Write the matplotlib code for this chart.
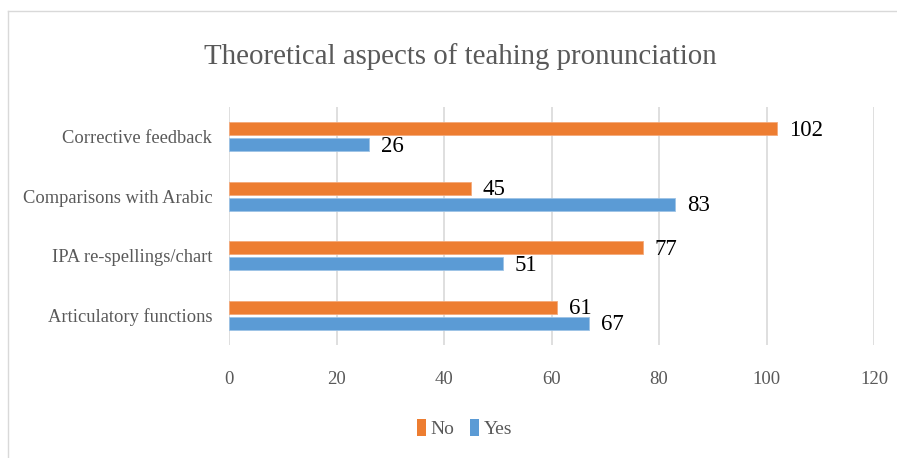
import numpy as np
import matplotlib
matplotlib.use("Agg")
import matplotlib.pyplot as plt
from matplotlib.patches import Patch
from matplotlib.lines import Line2D

# data (bottom to top, as drawn by Excel)
categories = ["Articulatory functions", "IPA re-spellings/chart",
              "Comparisons with Arabic", "Corrective feedback"]
no_values = [61, 77, 45, 102]
yes_values = [67, 51, 83, 26]
x_ticks = [0, 20, 40, 60, 80, 100, 120]
title = "Theoretical aspects of teahing pronunciation"

orange = "#ED7D31"
blue = "#5B9BD5"
grey_text = "#595959"

plt.rcParams["font.family"] = ["Liberation Serif", "DejaVu Serif"]

fig = plt.figure(figsize=(8.97, 4.58), dpi=100)
ax = fig.add_axes([0.2553, 0.2467, 0.9744 - 0.2553, 0.7664 - 0.2467])

y = np.arange(len(categories))
h = 0.22
off = 0.135
bars_no = ax.barh(y + off, no_values, height=h, color=orange, edgecolor="#F4A97A", linewidth=0.6, zorder=3)
bars_yes = ax.barh(y - off, yes_values, height=h, color=blue, edgecolor="#9DC3E6", linewidth=0.6, zorder=3)

# value labels at bar ends
for b, v in zip(bars_no, no_values):
    ax.annotate(str(v), (b.get_width(), b.get_y() + b.get_height() / 2),
                xytext=(8.5, -1), textcoords="offset points", va="center", ha="left",
                fontsize=16.5, color="black", zorder=4)
for b, v in zip(bars_yes, yes_values):
    ax.annotate(str(v), (b.get_width(), b.get_y() + b.get_height() / 2),
                xytext=(8.5, -1), textcoords="offset points", va="center", ha="left",
                fontsize=16.5, color="black", zorder=4)

ax.set_xlim(0, 120)
ax.set_ylim(-0.5, len(categories) - 0.5)
ax.set_xticks(x_ticks)
ax.set_xticklabels([str(t) for t in x_ticks], fontsize=13.5, color=grey_text)
ax.set_yticks(y)
ax.set_yticklabels(categories, fontsize=13.3, color=grey_text)
ax.tick_params(axis="both", length=0)
ax.tick_params(axis="x", pad=19)
ax.tick_params(axis="y", pad=12)
ax.grid(axis="x", color="#D9D9D9", linewidth=1.2, zorder=0)
for s in ax.spines.values():
    s.set_visible(False)

fig.text(0.513, 0.877, title, ha="center", va="center", fontsize=20.8, color=grey_text)

handles = [Patch(facecolor=orange, edgecolor="none", label="No"),
           Patch(facecolor=blue, edgecolor="none", label="Yes")]
leg = fig.legend(handles=handles, loc="center", bbox_to_anchor=(0.518, 0.064), ncol=2,
                 frameon=False, fontsize=14, handlelength=0.45, handleheight=1.0,
                 handletextpad=0.25, columnspacing=0.8)
for t in leg.get_texts():
    t.set_color(grey_text)

# chart border (top and left edges visible)
fig.add_artist(Line2D([0.009, 0.999], [0.977, 0.977], transform=fig.transFigure, color="#D9D9D9", linewidth=1))
fig.add_artist(Line2D([0.009, 0.009], [0.0, 0.977], transform=fig.transFigure, color="#D9D9D9", linewidth=1))

fig.savefig("out.png", dpi=100)
